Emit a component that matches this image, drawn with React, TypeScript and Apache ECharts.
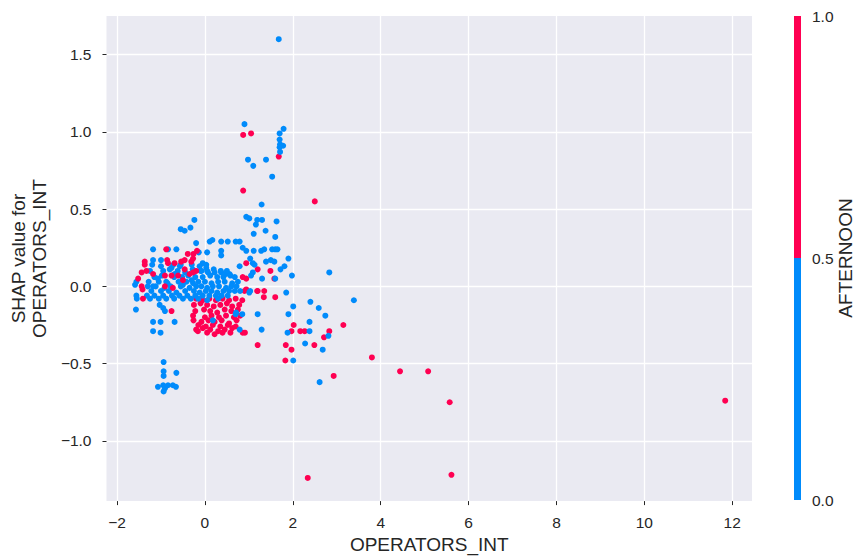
import React, { useEffect, useRef } from "react";
import * as echarts from "echarts";

// OPERATORS_INT vs SHAP value, AFTERNOON = 0 (blue)
const afternoon0: number[][] = [
  [1.68, 1.6], [0.9, 1.05], [1.79, 1.02], [1.7, 0.99], [1.7, 0.95], [1.71, 0.92], [1.7, 0.9], [1.78, 0.91], [1.71, 0.87],
  [0.98, 0.82], [1.1, 0.78], [1.39, 0.82], [1.53, 0.71], [1.29, 0.53],
  [0.94, 0.45], [1.01, 0.44], [1.19, 0.43], [1.3, 0.43], [1.63, 0.42], [1.16, 0.4], [1.11, 0.34], [1.38, 0.36], [1.6, 0.32],
  [-0.24, 0.43], [-0.33, 0.38], [-0.55, 0.37], [-0.46, 0.36],
  [0.11, 0.29], [0.17, 0.3], [0.37, 0.29], [0.52, 0.29], [0.7, 0.29], [0.79, 0.29], [-0.2, 0.28],
  [0.86, 0.25], [0.94, 0.23], [1.11, 0.23], [1.28, 0.23], [1.35, 0.24], [1.53, 0.24], [1.6, 0.24], [1.65, 0.24],
  [0.37, 0.23], [0.37, 0.2], [0.05, 0.22], [-0.14, 0.22], [-1.18, 0.24], [-0.84, 0.24], [-0.65, 0.24],
  [1.03, 0.18], [1.09, 0.15], [1.13, 0.14], [1.39, 0.16], [1.5, 0.17], [1.58, 0.16], [1.9, 0.18], [1.81, 0.13], [1.72, 0.11], [0.79, 0.13],
  [1.09, 0.09], [1.05, 0.07], [1.3, 0.05], [1.6, 0.05], [1.98, 0.07], [2.83, 0.09],
  [-1.18, 0.17], [-1.0, 0.17], [-0.05, 0.15], [0.03, 0.14], [-0.57, 0.13], [-0.76, 0.12], [-0.69, 0.08],
  [-0.23, 0.1], [-0.08, 0.1], [0.07, 0.09], [0.22, 0.09], [0.37, 0.09], [0.48, 0.08], [0.56, 0.08],
  [-1.07, 0.05], [-0.88, 0.03], [-1.56, 0.03], [-1.59, 0.01], [-1.18, 0.0], [-0.5, 0.01], [-0.27, 0.02],
  [-1.56, -0.06], [-1.55, -0.08],
  [-1.2, 0.14], [-1.0, 0.13], [-0.72, 0.14], [-0.55, 0.14], [-0.3, 0.14], [-0.12, 0.13], [0.03, 0.12],
  [-1.25, 0.1], [-0.95, 0.1], [-0.8, 0.11], [-0.62, 0.1], [-0.45, 0.09], [-0.28, 0.11], [-0.1, 0.1], [0.05, 0.1], [0.2, 0.11], [0.36, 0.1], [0.5, 0.1],
  [-1.15, 0.06], [-0.98, 0.07], [-0.7, 0.06], [-0.52, 0.06], [-0.38, 0.07], [-0.22, 0.06], [-0.05, 0.06], [0.12, 0.07], [0.28, 0.06], [0.42, 0.06], [0.58, 0.07], [0.68, 0.06],
  [-1.28, 0.03], [-1.05, 0.03], [-0.85, 0.02], [-0.6, 0.03], [-0.42, 0.03], [-0.3, 0.04], [-0.15, 0.03], [0.0, 0.03], [0.15, 0.02], [0.3, 0.03], [0.45, 0.03], [0.62, 0.02], [0.75, 0.03],
  [-1.3, 0.0], [-1.12, 0.0], [-0.92, -0.01], [-0.78, 0.0], [-0.55, 0.0], [-0.35, -0.01], [-0.2, 0.0], [-0.08, 0.0], [0.05, -0.01], [0.18, 0.0], [0.32, 0.0], [0.48, -0.01], [0.6, 0.0], [0.72, 0.0],
  [-1.22, -0.03], [-1.0, -0.03], [-0.82, -0.03], [-0.65, -0.04], [-0.45, -0.03], [-0.25, -0.03], [-0.12, -0.04], [0.02, -0.03], [0.15, -0.03], [0.28, -0.04], [0.42, -0.03], [0.55, -0.03], [0.68, -0.03], [0.8, -0.03],
  [-1.32, -0.06], [-1.15, -0.06], [-0.95, -0.06], [-0.75, -0.06], [-0.58, -0.06], [-0.4, -0.06], [-0.22, -0.06], [-0.05, -0.06], [0.1, -0.06], [0.25, -0.06], [0.38, -0.06], [0.52, -0.06],
  [-1.25, -0.08], [-1.05, -0.08], [-0.88, -0.08], [-0.7, -0.08], [-0.5, -0.08], [-0.32, -0.08], [-0.15, -0.08], [0.05, -0.09], [0.3, -0.08],
  [1.85, -0.04], [1.01, -0.04], [1.03, -0.03], [2.01, -0.13], [2.4, -0.1], [2.59, -0.14], [2.74, -0.19], [3.39, -0.09], [1.9, -0.18],
  [2.38, -0.23], [2.38, -0.29], [2.81, -0.32], [1.88, -0.3], [2.28, -0.37], [2.68, -0.41], [2.01, -0.48], [2.61, -0.62],
  [1.2, -0.18], [1.29, -0.28], [0.79, -0.28], [0.85, -0.18], [0.7, -0.18], [0.18, -0.22], [0.71, -0.17],
  [-1.57, -0.15], [-0.95, -0.14], [-0.91, -0.16], [-1.03, -0.12], [-1.18, -0.23], [-1.01, -0.23], [-0.69, -0.23], [-1.18, -0.29], [-1.01, -0.3],
  [-0.94, -0.49], [-0.94, -0.55], [-0.94, -0.58], [-0.65, -0.56], [-1.07, -0.65], [-0.95, -0.64], [-0.84, -0.64], [-0.73, -0.64],
  [-0.91, -0.66], [-0.66, -0.65], [-0.94, -0.68],
];

// AFTERNOON = 1 (red), points lying under the blue band
const afternoon1: number[][] = [
  [0.87, 0.98], [1.05, 0.99], [1.68, 0.84], [0.87, 0.62], [2.5, 0.55],
  [3.8, -0.46], [4.44, -0.55], [5.08, -0.55], [5.57, -0.75], [5.61, -1.22], [2.34, -1.24], [2.93, -0.58], [3.15, -0.25],
  [2.83, -0.29], [2.71, -0.33], [2.49, -0.38], [2.27, -0.29], [2.17, -0.29], [1.97, -0.29], [2.02, -0.25], [1.84, -0.38],
  [1.97, -0.41], [1.83, -0.48], [11.84, -0.74],
  [0.94, 0.15], [1.2, 0.11], [1.49, 0.1], [0.86, 0.06], [0.94, 0.05], [1.58, 0.05], [1.6, -0.07], [1.34, -0.07], [1.19, -0.03],
  [0.94, -0.02], [0.85, -0.09], [0.9, -0.03], [1.2, -0.03], [1.35, -0.03], [1.2, -0.38], [0.86, -0.3], [0.91, -0.3],
  [-0.2, -0.08], [-0.05, -0.09], [0.1, -0.08], [0.25, -0.09], [0.4, -0.08], [0.55, -0.09], [0.7, -0.08],
  [-0.25, -0.12], [-0.1, -0.11], [0.05, -0.12], [0.2, -0.13], [0.35, -0.12], [0.5, -0.11], [0.62, -0.13], [0.78, -0.12],
  [-0.22, -0.16], [-0.02, -0.15], [0.12, -0.16], [0.28, -0.17], [0.45, -0.15], [0.6, -0.16], [0.75, -0.15],
  [-0.27, -0.19], [0.0, -0.2], [0.15, -0.19], [0.32, -0.2], [0.48, -0.19], [0.66, -0.2], [0.8, -0.19],
  [-0.26, -0.22], [-0.08, -0.23], [0.08, -0.22], [0.22, -0.23], [0.38, -0.22], [0.55, -0.24], [0.72, -0.22],
  [-0.15, -0.25], [0.02, -0.26], [0.18, -0.25], [0.35, -0.26], [0.52, -0.25], [0.7, -0.26],
  [-0.2, -0.28], [-0.05, -0.27], [0.12, -0.28], [0.3, -0.29], [0.45, -0.28], [0.62, -0.27],
  [-0.16, -0.29], [0.05, -0.3], [0.22, -0.31], [0.4, -0.3], [0.58, -0.3],
];

// AFTERNOON = 1 (red), left cluster drawn over the blue points
const afternoon1Left: number[][] = [
  [-0.18, 0.23], [-0.88, 0.24], [-0.39, 0.21], [-0.26, 0.21], [-0.27, 0.18],
  [-1.37, 0.16], [-1.37, 0.14], [-0.86, 0.17], [-0.84, 0.15], [-0.69, 0.15], [-0.54, 0.16], [-0.46, 0.17], [-0.31, 0.16],
  [-1.44, 0.09], [-1.33, 0.1], [-1.18, 0.08], [-0.91, 0.07], [-0.76, 0.07], [-0.61, 0.07], [-0.35, 0.08], [-0.2, 0.1],
  [-0.46, 0.11], [-0.27, 0.09], [-0.5, 0.04], [-1.44, 0.0], [-1.42, -0.02], [-0.91, 0.0], [-0.73, -0.01], [-1.41, -0.08],
  [-0.76, -0.16], [-1.52, 0.05],
];

const xTicks = [-2, 0, 2, 4, 6, 8, 10, 12];
const yTicks = [-1.0, -0.5, 0.0, 0.5, 1.0, 1.5];
const colorbarTicks = ["0.0", "0.5", "1.0"];

const BLUE = "#008bfb";
const RED = "#ff0052";
const TXT = "#262626";
const FONT = "Liberation Sans, Arial, sans-serif";
const TICK_FS = 15.5;
const LABEL_FS = 19;

const minus = (s: string) => s.replace("-", "\u2212");

export default function App() {
  const ref = useRef<HTMLDivElement>(null);
  useEffect(() => {
    if (!ref.current) return;
    const chart = echarts.init(ref.current, undefined, { renderer: "svg" });
    const gTop = 16;
    const gBottom = 505;
    const cbX = 794;
    const cbTop = 16;
    const cbBottom = 500;
    const cbMid = (cbTop + cbBottom) / 2;
    const scatter = (data: number[][], color: string) => ({
      type: "scatter",
      data,
      symbolSize: 6,
      itemStyle: { color, opacity: 1 },
      silent: true,
    });
    chart.setOption({
      animation: false,
      backgroundColor: "#ffffff",
      textStyle: { fontFamily: FONT },
      grid: { left: 103, right: 103, top: gTop, bottom: 559 - gBottom, backgroundColor: "#eaeaf2", show: true, borderWidth: 0 },
      xAxis: {
        type: "value",
        min: -2.24,
        max: 12.45,
        name: "OPERATORS_INT",
        nameLocation: "middle",
        nameGap: 31,
        nameTextStyle: { color: TXT, fontSize: LABEL_FS, fontFamily: FONT },
        axisLine: { show: false, onZero: false },
        axisTick: { show: true, length: 4, lineStyle: { color: TXT }, customValues: xTicks },
        axisLabel: {
          color: TXT, fontSize: TICK_FS, fontFamily: FONT, margin: 13,
          customValues: xTicks,
          formatter: (v: number) => minus(String(Math.round(v))),
        },
        splitLine: { show: true, lineStyle: { color: "#ffffff", width: 1.3 } },
      },
      yAxis: {
        type: "value",
        min: -1.39,
        max: 1.75,
        name: "SHAP value for\nOPERATORS_INT",
        nameLocation: "middle",
        nameRotate: 90,
        nameGap: 52,
        nameTextStyle: { color: TXT, fontSize: LABEL_FS, fontFamily: FONT, lineHeight: 21 },
        axisLine: { show: false, onZero: false },
        axisTick: { show: true, length: 4, lineStyle: { color: TXT }, customValues: yTicks },
        axisLabel: {
          color: TXT, fontSize: TICK_FS, fontFamily: FONT, margin: 15,
          customValues: yTicks,
          formatter: (v: number) => minus(v.toFixed(1)),
        },
        splitLine: { show: true, lineStyle: { color: "#ffffff", width: 1.3 } },
      },
      series: [
        scatter(afternoon1, RED),
        scatter(afternoon0, BLUE),
        scatter(afternoon1Left, RED),
      ],
      graphic: [
        { type: "rect", shape: { x: cbX, y: cbTop, width: 7, height: cbMid - cbTop }, style: { fill: RED } },
        { type: "rect", shape: { x: cbX, y: cbMid, width: 7, height: cbBottom - cbMid }, style: { fill: BLUE } },
        ...colorbarTicks.map((t, i) => ({
          type: "text",
          x: 812,
          y: cbBottom - (i * (cbBottom - cbTop)) / 2,
          style: { text: t, fill: TXT, font: `${TICK_FS}px ${FONT}`, textVerticalAlign: "middle", verticalAlign: "middle" },
        })),
        {
          type: "text",
          x: 845,
          y: cbMid,
          rotation: Math.PI / 2,
          style: { text: "AFTERNOON", fill: TXT, font: `${LABEL_FS}px ${FONT}`, align: "center", verticalAlign: "middle" },
        },
      ],
    });
    return () => chart.dispose();
  }, []);
  return <div ref={ref} style={{ position: "fixed", left: 0, top: 0, width: 855, height: 559 }} />;
}
